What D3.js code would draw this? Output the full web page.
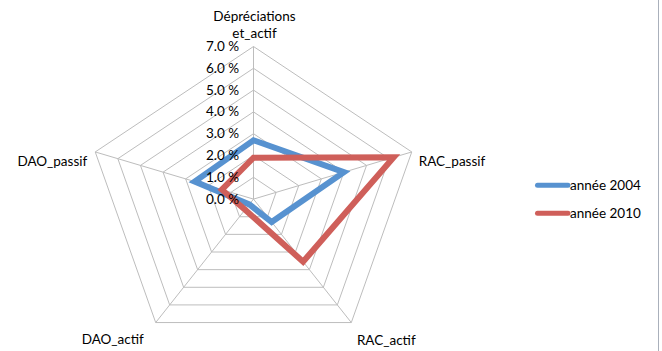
<!DOCTYPE html>
<html>
<head>
<meta charset="utf-8">
<script src="https://cdn.jsdelivr.net/npm/d3@7"></script>
<style>
  html, body { margin: 0; padding: 0; background: #fff; }
  svg { display: block; }
  text { font-family: Lato, "Open Sans", "Liberation Sans", sans-serif; fill: #000; }
</style>
</head>
<body>
<svg id="chart" width="662" height="351"></svg>
<script>
// Axes of the radar, clockwise from the top
const axes = [["Dépréciations", "et_actif"], ["RAC_passif"], ["RAC_actif"], ["DAO_actif"], ["DAO_passif"]];
// Ratios per year, in percent
const series2004 = [2.7, 4.0, 1.3, 0.3, 2.6];
const series2010 = [1.9, 6.2, 3.55, 0.6, 1.4];
const seriesNames = ["année 2004", "année 2010"];
const tickValues = [0, 1, 2, 3, 4, 5, 6, 7];
const tickLabels = ["0.0 %", "1.0 %", "2.0 %", "3.0 %", "4.0 %", "5.0 %", "6.0 %", "7.0 %"];

const colors = ["#5792d0", "#cf5f5a"];
const svg = d3.select("#chart");

const cx = 253.5, cy = 199.1;
const rx = d3.scaleLinear().domain([0, 7]).range([0, 166.4]);
const ry = d3.scaleLinear().domain([0, 7]).range([0, 152.6]);
const angle = d3.scaleLinear().domain([0, axes.length]).range([-Math.PI / 2, 1.5 * Math.PI]);

function pt(i, v) {
  const a = angle(i);
  return [cx + rx(v) * Math.cos(a), cy + ry(v) * Math.sin(a)];
}

// chart frame edge on the right
svg.append("line").attr("x1", 658.5).attr("x2", 658.5).attr("y1", 0).attr("y2", 351)
  .attr("stroke", "#aab0bb").attr("stroke-width", 1);

// pentagon rings
const ring = d3.line().curve(d3.curveLinearClosed);
const grid = svg.append("g").attr("fill", "none").attr("stroke", "#bdbdbd").attr("stroke-width", 1);
tickValues.filter(v => v > 0).forEach(v => {
  grid.append("path").attr("d", ring(axes.map((_, i) => pt(i, v))));
});
// spokes
axes.forEach((_, i) => {
  const [x, y] = pt(i, 7);
  grid.append("line").attr("x1", cx).attr("y1", cy).attr("x2", x).attr("y2", y);
});

// series outlines
const seriesData = [series2004, series2010];
seriesData.forEach((vals, s) => {
  svg.append("path")
    .attr("d", ring(vals.map((v, i) => pt(i, v))))
    .attr("fill", "none")
    .attr("stroke", colors[s])
    .attr("stroke-width", 6)
    .attr("stroke-linejoin", "miter");
});

// value labels along the top spoke
svg.append("g").selectAll("text").data(tickValues).join("text")
  .attr("x", cx - 14.5)
  .attr("y", v => cy - ry(v) + 4.5)
  .attr("text-anchor", "end")
  .attr("font-size", 13.5)
  .text((v, i) => tickLabels[i]);

// axis names placed around each outer vertex
const labelOffsets = [[1, -26, "middle"], [7, 14, "start"], [35, 22, "middle"], [-43, 21, "middle"], [-8, 14, "end"]];
axes.forEach((lines, i) => {
  const [x, y] = pt(i, 7);
  const [dx, dy, anchor] = labelOffsets[i];
  const t = svg.append("text").attr("x", x + dx).attr("y", y + dy)
    .attr("text-anchor", anchor).attr("font-size", 13.5);
  lines.forEach((l, k) => {
    t.append("tspan").attr("x", x + dx).attr("dy", k === 0 ? 0 : 17).text(l);
  });
});

// legend
const legend = svg.append("g");
seriesNames.forEach((name, s) => {
  const y = 185.3 + s * 28;
  legend.append("line").attr("x1", 537.5).attr("x2", 568).attr("y1", y).attr("y2", y)
    .attr("stroke", colors[s]).attr("stroke-width", 5).attr("stroke-linecap", "round");
  legend.append("text").attr("x", 570).attr("y", y + 4.5).attr("font-size", 13.5).text(name);
});
</script>
</body>
</html>
